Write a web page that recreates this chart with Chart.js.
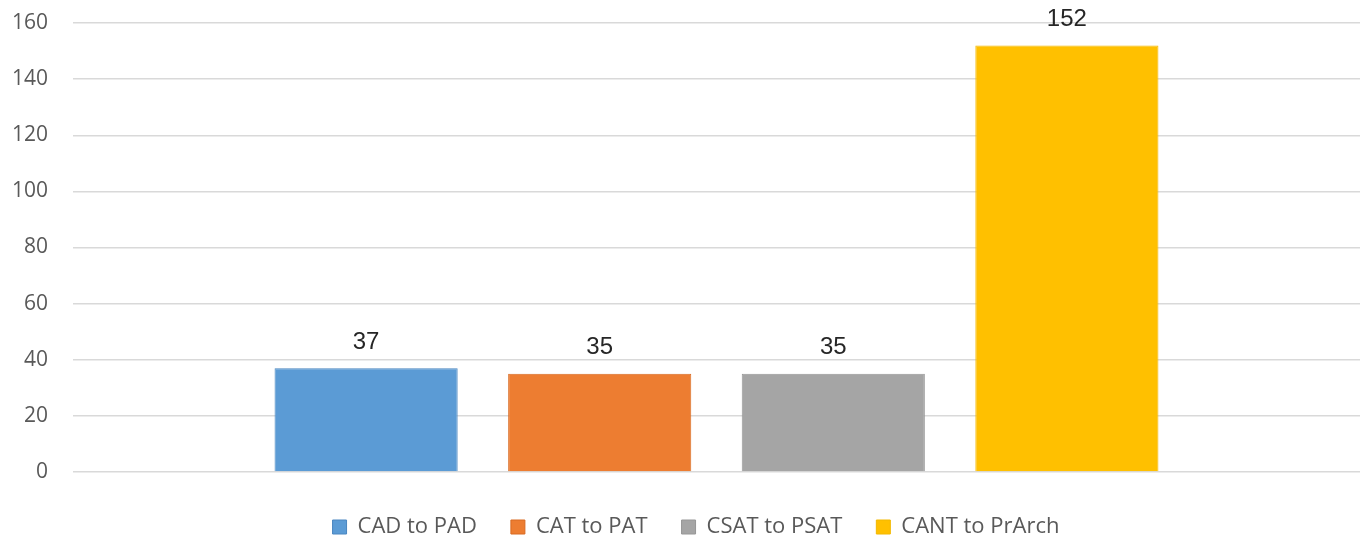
<!DOCTYPE html>
<html>
<head>
<meta charset="utf-8">
<script src="https://cdn.jsdelivr.net/npm/chart.js@4.4.0/dist/chart.umd.min.js"></script>
<style>
    html, body { margin: 0; padding: 0; background: #fff; }
    #wrap { width: 1364px; height: 540px; }
</style>
</head>
<body>
<div id="wrap"><canvas id="barChart"></canvas></div>
<script>
const seriesNames = ['CAD to PAD', 'CAT to PAT', 'CSAT to PSAT', 'CANT to PrArch'];
const seriesValues = [37, 35, 35, 152];
const fillColors = ['#5B9BD5', '#ED7D31', '#A5A5A5', '#FFC000'];
const edgeColors = ['#4A86C0', '#D86A22', '#979797', '#F2B800'];
const yTicks = [0, 20, 40, 60, 80, 100, 120, 140, 160];

// value printed above each bar
const valueLabels = {
    id: 'valueLabels',
    afterDatasetsDraw(chart) {
        const ctx = chart.ctx;
        ctx.save();
        ctx.font = '24px "Liberation Sans", Arial, sans-serif';
        ctx.fillStyle = '#262626';
        ctx.textAlign = 'center';
        ctx.textBaseline = 'middle';
        chart.data.datasets.forEach((ds, i) => {
            const bar = chart.getDatasetMeta(i).data[0];
            ctx.fillText(String(ds.data[0]), bar.x, bar.y - 26);
        });
        ctx.restore();
    }
};

// legend sits centred under the plot area rather than the whole canvas
const legendShift = {
    id: 'legendShift',
    afterLayout(chart) {
        const dx = 16;
        chart.legend.left += dx;
        chart.legend.right += dx;
    }
};

const datasets = seriesNames.map((name, i) => ({
    label: name,
    data: [seriesValues[i]],
    backgroundColor: fillColors[i],
    borderColor: edgeColors[i],
    borderWidth: 1,
    barPercentage: 0.784,
    categoryPercentage: 0.726
}));

const ctx = document.getElementById('barChart').getContext('2d');
new Chart(ctx, {
    type: 'bar',
    data: { labels: [''], datasets: datasets },
    options: {
        responsive: true,
        maintainAspectRatio: false,
        animation: false,
        layout: { padding: { top: 23, right: 4, left: 0, bottom: -8 } },
        plugins: {
            legend: {
                position: 'bottom',
                labels: {
                    boxWidth: 14,
                    boxHeight: 14,
                    padding: 34,
                    color: '#595959',
                    font: { family: '"Open Sans", sans-serif', size: 22 }
                }
            },
            tooltip: { enabled: false }
        },
        scales: {
            x: {
                grid: { display: false },
                border: { display: false },
                ticks: { display: false },
                afterFit: scale => { scale.height = 10; }
            },
            y: {
                min: 0,
                max: 160,
                afterBuildTicks: scale => { scale.ticks = yTicks.map(v => ({ value: v })); },
                afterFit: scale => {
                    scale.width = 73;
                    // label overflow should not push the plot down
                    scale.paddingTop = 0;
                    scale.paddingBottom = 0;
                },
                grid: { color: '#D9D9D9', lineWidth: 1.5, drawTicks: false },
                border: { display: false },
                ticks: {
                    padding: 25,
                    color: '#595959',
                    font: { family: '"Open Sans", sans-serif', size: 21 }
                }
            }
        }
    },
    plugins: [valueLabels, legendShift]
});
</script>
</body>
</html>
